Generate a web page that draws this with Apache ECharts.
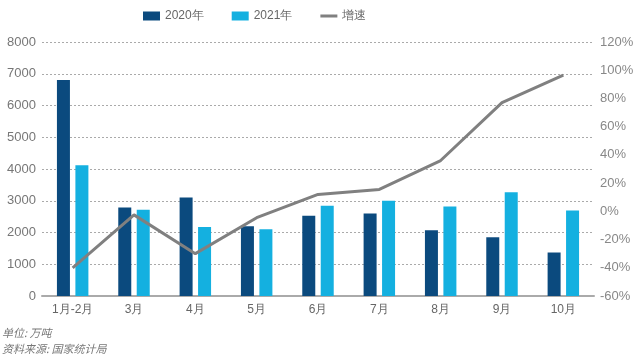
<!DOCTYPE html>
<html><head><meta charset="utf-8">
<script src="https://cdn.jsdelivr.net/npm/echarts@6/dist/echarts.min.js"></script>
<style>html,body{margin:0;padding:0;background:#fff}#c{width:644px;height:358px}</style>
</head><body><div id="c"></div>
<script>
const categories = ['1月-2月','3月','4月','5月','6月','7月','8月','9月','10月'];
const values2020 = [6800, 2790, 3100, 2200, 2530, 2600, 2070, 1850, 1370];
const values2021 = [4120, 2720, 2170, 2100, 2840, 3000, 2820, 3270, 2690];
const growth = [-40, -2.5, -30, -4.5, 12, 15.5, 36, 77, 96.5];
const leftTicks = {min: 0, max: 8000, interval: 1000};
const rightTicks = {min: -60, max: 120, interval: 20};

const font = '"Liberation Sans", Arial, sans-serif';
const chart = echarts.init(document.getElementById('c'), null, {renderer: 'canvas'});
chart.setOption({
  animation: false,
  textStyle: {fontFamily: font},
  legend: {
    top: 5, left: 138, itemWidth: 17, itemHeight: 9, itemGap: 28,
    textStyle: {color: '#666', fontSize: 12, fontFamily: font},
    data: [
      {name: '2020年', icon: 'rect'},
      {name: '2021年', icon: 'rect'},
      {name: '增速', icon: 'path://M0,3h17v3h-17z M0,0h0.01v0.01h-0.01z M0,9h0.01v0.01h-0.01z'}
    ]
  },
  grid: {left: 42, right: 50, top: 42, bottom: 62, containLabel: false},
  xAxis: {
    type: 'category', data: categories,
    axisLine: {lineStyle: {color: '#aaa', width: 2}},
    axisTick: {show: false},
    axisLabel: {color: '#666', fontSize: 12, margin: 8, fontFamily: font}
  },
  yAxis: [{
    type: 'value', min: leftTicks.min, max: leftTicks.max, interval: leftTicks.interval,
    axisLine: {show: false}, axisTick: {show: false},
    axisLabel: {color: '#777', fontSize: 13, margin: 6, fontFamily: font, formatter: v => String(v)},
    splitLine: {lineStyle: {color: '#aaa', type: [2, 2], width: 1}}
  }, {
    type: 'value', min: rightTicks.min, max: rightTicks.max, interval: rightTicks.interval,
    position: 'right',
    axisLine: {show: false}, axisTick: {show: false},
    axisLabel: {color: '#888', fontSize: 13, margin: 6, formatter: '{value}%', fontFamily: font},
    splitLine: {show: false}
  }],
  series: [{
    name: '2020年', type: 'bar', data: values2020, barWidth: 13, barGap: '42%',
    itemStyle: {color: '#0b4a7e'}
  }, {
    name: '2021年', type: 'bar', data: values2021, barWidth: 13,
    itemStyle: {color: '#14b0e0'}
  }, {
    name: '增速', type: 'line', yAxisIndex: 1, data: growth,
    symbol: 'none', lineStyle: {color: '#808080', width: 3}, itemStyle: {color: '#808080'}
  }],
  graphic: [{
    type: 'text', left: 2, top: 327,
    style: {text: '单位: 万吨', fill: '#777', font: 'italic 11px "Noto Sans CJK SC", sans-serif'}
  }, {
    type: 'text', left: 2, top: 343,
    style: {text: '资料来源: 国家统计局', fill: '#777', font: 'italic 11px "Noto Sans CJK SC", sans-serif'}
  }]
});
</script></body></html>
